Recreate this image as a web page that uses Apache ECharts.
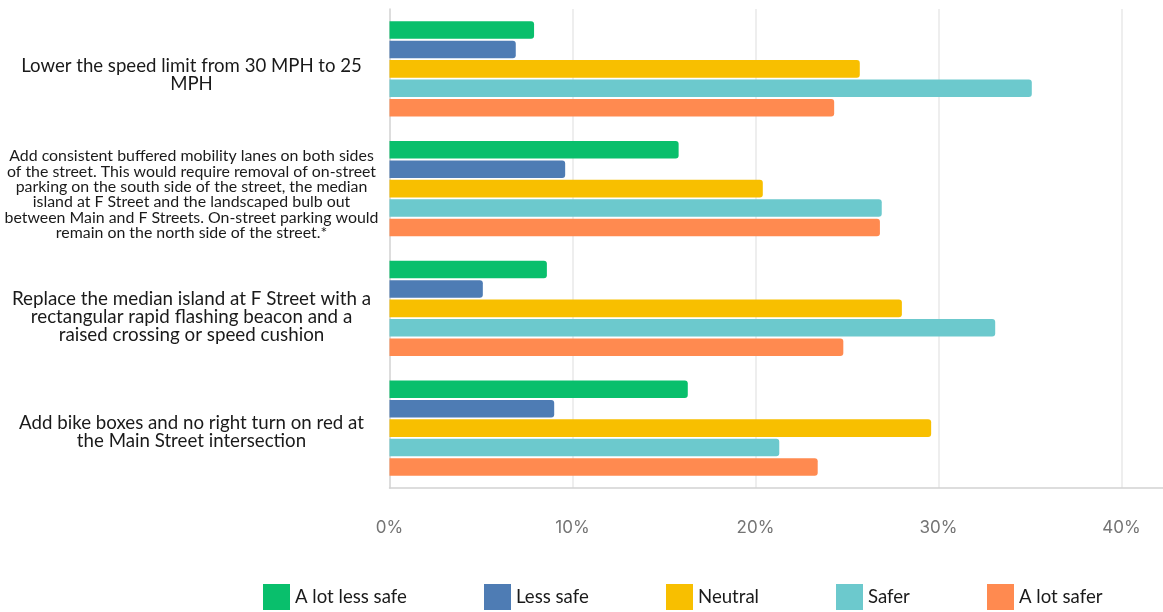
<!DOCTYPE html>
<html>
<head>
<meta charset="utf-8">
<script src="https://cdn.jsdelivr.net/npm/echarts@6/dist/echarts.min.js"></script>
<style>
  html, body { margin: 0; padding: 0; background: #ffffff; }
  #chart { width: 1163px; height: 612px; }
</style>
</head>
<body>
<div id="chart"></div>
<script>
// Proposed street changes (one row each)
const categories = [
  'Lower the speed limit from 30 MPH to 25\nMPH',
  'Add consistent buffered mobility lanes on both sides\nof the street. This would require removal of on-street\nparking on the south side of the street, the median\nisland at F Street and the landscaped bulb out\nbetween Main and F Streets. On-street parking would\nremain on the north side of the street.*',
  'Replace the median island at F Street with a\nrectangular rapid flashing beacon and a\nraised crossing or speed cushion',
  'Add bike boxes and no right turn on red at\nthe Main Street intersection'
];

// Share of responses (%) per rating
const seriesNames = ['A lot less safe', 'Less safe', 'Neutral', 'Safer', 'A lot safer'];
const aLotLessSafe = [7.9, 15.8, 8.6, 16.3];
const lessSafe     = [6.9, 9.6, 5.1, 9.0];
const neutral      = [25.7, 20.4, 28.0, 29.6];
const safer        = [35.1, 26.9, 33.1, 21.3];
const aLotSafer    = [24.3, 26.8, 24.8, 23.4];

const xTicks = [0, 10, 20, 30, 40];

const seriesValues = [aLotLessSafe, lessSafe, neutral, safer, aLotSafer];
const colors = ['#09BF6C', '#4E7CB4', '#F8BF00', '#6CC9CD', '#FF8A50'];
const legendLeft = [263, 484, 666, 836, 987];

const labelFont = 'Lato, "Noto Sans", sans-serif';

const chart = echarts.init(document.getElementById('chart'), null, { renderer: 'canvas' });

chart.setOption({
  backgroundColor: '#ffffff',
  animation: false,
  grid: { left: 389.5, right: 0, top: 9, bottom: 124, containLabel: false },
  xAxis: {
    type: 'value',
    min: xTicks[0],
    max: 42.27,
    interval: xTicks[1] - xTicks[0],
    axisLine: { show: true, lineStyle: { color: '#d2d2d2', width: 1.5 } },
    axisTick: { show: false },
    splitLine: { show: true, showMinLine: false, showMaxLine: false, lineStyle: { color: '#e8e8e8', width: 1.5 } },
    axisLabel: {
      showMaxLabel: false,
      margin: 31,
      color: '#747474',
      fontSize: 17,
      fontFamily: 'Inter, Lato, sans-serif',
      formatter: v => v + '%'
    }
  },
  yAxis: {
    type: 'category',
    inverse: true,
    data: categories,
    axisLine: { show: true, lineStyle: { color: '#d2d2d2', width: 1.5 } },
    axisTick: { show: false },
    splitLine: { show: false },
    axisLabel: {
      margin: 198,
      align: 'center',
      verticalAlign: 'middle',
      interval: 0,
      formatter: (v, i) => '{c' + i + '|' + v + '}',
      rich: {
        c0: { fontSize: 18.6, lineHeight: 18, color: '#1a1a1a', fontFamily: labelFont, padding: [12, 0, 0, 0] },
        c1: { fontSize: 15.9, lineHeight: 15.4, color: '#1a1a1a', fontFamily: labelFont, padding: [12, 0, 0, 0] },
        c2: { fontSize: 18.8, lineHeight: 18, color: '#1a1a1a', fontFamily: labelFont, padding: [18, 0, 0, 0] },
        c3: { fontSize: 18.7, lineHeight: 18, color: '#1a1a1a', fontFamily: labelFont, padding: [8, 0, 0, 0] }
      }
    }
  },
  legend: seriesNames.map((name, i) => ({
    data: [name],
    left: legendLeft[i],
    top: 584,
    itemWidth: 27,
    itemHeight: 26,
    icon: 'rect',
    padding: 0,
    textStyle: { fontSize: 18.6, color: '#1a1a1a', fontFamily: labelFont }
  })),
  series: seriesNames.map((name, i) => ({
    name: name,
    type: 'bar',
    data: seriesValues[i],
    barCategoryGap: '20.5%',
    barGap: '11%',
    itemStyle: { color: colors[i], borderRadius: [0, 3, 3, 0] }
  }))
});
</script>
</body>
</html>
